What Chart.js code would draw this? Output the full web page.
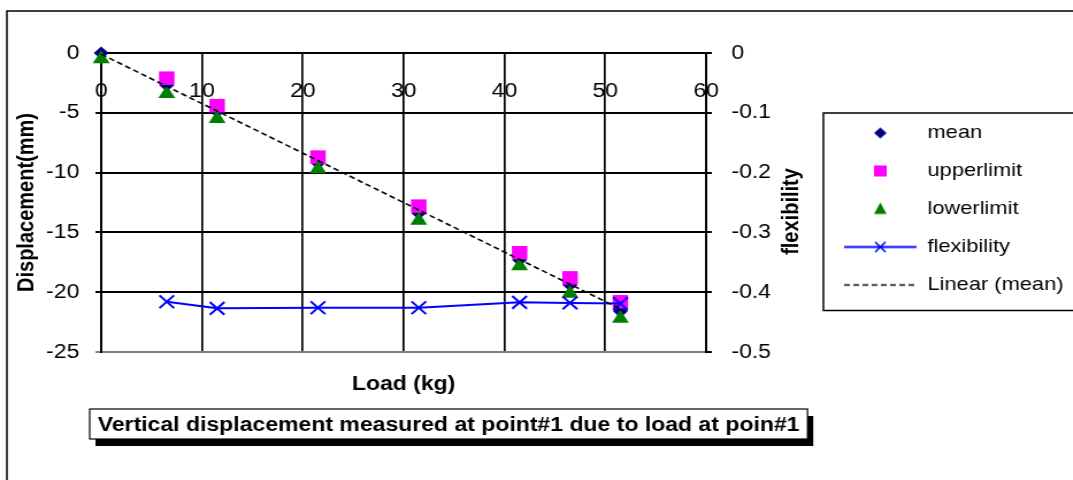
<!DOCTYPE html>
<html lang="en">
<head>
  <meta charset="UTF-8" />
  <title>Vertical displacement at point#1</title>
  <script src="https://cdn.jsdelivr.net/npm/chart.js"></script>
  <style>
    html, body { margin: 0; padding: 0; background: #fff; overflow: hidden; }
    /* the chart is drawn narrow and widened a little, like the original sheet export */
    #wrap { width: 933px; height: 480px; transform: scaleX(1.15); transform-origin: 0 0; }
  </style>
</head>
<body>
  <div id="wrap"><canvas id="chart" width="933" height="480"></canvas></div>

  <script>
    // load steps (kg) and measured vertical displacement (mm)
    const loads      = [0, 6.5, 11.5, 21.5, 31.5, 41.5, 46.5, 51.5];
    const meanDisp   = [0, -2.7, -4.9, -9.2, -13.4, -17.3, -19.4, -21.6];
    const upperDisp  = [null, -2.1, -4.4, -8.7, -12.8, -16.7, -18.8, -20.8];
    const lowerDisp  = [-0.5, -3.4, -5.5, -9.7, -14.0, -17.8, -20.1, -22.2];

    // flexibility = displacement / load (no value at zero load)
    const flexLoads  = [6.5, 11.5, 21.5, 31.5, 41.5, 46.5, 51.5];
    const flexValues = [-0.416, -0.427, -0.426, -0.426, -0.417, -0.418, -0.419];

    // linear trendline of the mean
    const trendLoads = [0, 51.5];
    const trendDisp  = [-0.1, -21.4];

    const chartTitle = 'Vertical displacement measured at point#1 due to load at poin#1';

    const FONT = "'Liberation Sans', Arial, sans-serif";
    Chart.defaults.font.family = FONT;
    Chart.defaults.color = '#000';

    const toPoints = (xs, ys) => xs.map((x, i) => ({ x: x, y: ys[i] })).filter(p => p.y !== null);

    // small canvases used as legend symbols
    function makeIcon(draw) {
      const c = document.createElement('canvas');
      c.width = 63; c.height = 19;
      draw(c.getContext('2d'), 31.5, 9.5);
      return c;
    }
    const legendIcons = [
      makeIcon((g, x, y) => {
        g.fillStyle = '#000080';
        g.beginPath(); g.moveTo(x, y - 5.5); g.lineTo(x + 5.5, y); g.lineTo(x, y + 5.5); g.lineTo(x - 5.5, y); g.closePath(); g.fill();
      }),
      makeIcon((g, x, y) => { g.fillStyle = '#FF00FF'; g.fillRect(x - 5.5, y - 5.5, 11, 11); }),
      makeIcon((g, x, y) => {
        g.fillStyle = '#008000';
        g.beginPath(); g.moveTo(x, y - 6.5); g.lineTo(x + 5.5, y + 5); g.lineTo(x - 5.5, y + 5); g.closePath(); g.fill();
      }),
      makeIcon((g, x, y) => {
        g.strokeStyle = '#0000FF'; g.lineWidth = 2;
        g.beginPath(); g.moveTo(0, y); g.lineTo(63, y); g.stroke();
        g.lineWidth = 1.6;
        g.beginPath(); g.moveTo(x - 4.5, y - 5); g.lineTo(x + 4.5, y + 5); g.moveTo(x + 4.5, y - 5); g.lineTo(x - 4.5, y + 5); g.stroke();
      }),
      makeIcon((g, x, y) => {
        g.strokeStyle = '#000'; g.lineWidth = 1.4; g.setLineDash([5, 3]);
        g.beginPath(); g.moveTo(0, y); g.lineTo(63, y); g.stroke();
      })
    ];

    // frame, legend box, right axis title and the boxed caption
    const decorations = {
      id: 'decorations',
      afterDraw(chart) {
        const ctx = chart.ctx;
        const area = chart.chartArea;
        const legend = chart.legend;
        const y2 = chart.scales.y2;
        ctx.save();

        ctx.strokeStyle = '#000';
        ctx.lineWidth = 1.5;
        ctx.strokeRect(6, 11, chart.width + 20, chart.height + 20);

        const hb = legend.legendHitBoxes;
        const top = hb[0].top - 10.5;
        const bottom = hb[hb.length - 1].top + hb[hb.length - 1].height + 16;
        ctx.strokeRect(legend.left + 1, top, chart.width, bottom - top);

        ctx.fillStyle = '#000';
        ctx.font = 'bold 20px ' + FONT;
        ctx.textAlign = 'center';
        ctx.textBaseline = 'middle';
        ctx.translate(y2.right - 27, (area.top + area.bottom) / 2 + 9);
        ctx.rotate(-Math.PI / 2);
        ctx.fillText('flexibility', 0, 0);
        ctx.setTransform(1, 0, 0, 1, 0, 0);

        const tw = ctx.measureText(chartTitle).width;
        const bx = area.left - 10, by = area.bottom + 57, bw = tw + 14, bh = 30;
        ctx.fillStyle = '#000';
        ctx.fillRect(bx + 5, by + 7, bw, bh);
        ctx.fillStyle = '#fff';
        ctx.fillRect(bx, by, bw, bh);
        ctx.lineWidth = 1.2;
        ctx.strokeRect(bx, by, bw, bh);
        ctx.fillStyle = '#000';
        ctx.fillText(chartTitle, bx + bw / 2, by + bh / 2 + 1);
        ctx.restore();
      }
    };

    new Chart(document.getElementById('chart'), {
      type: 'scatter',
      data: {
        datasets: [
          {
            label: 'mean',
            data: toPoints(loads, meanDisp),
            pointStyle: 'rectRot', pointRadius: 6.5, pointBorderWidth: 0,
            backgroundColor: '#000080', borderColor: '#000080',
            clip: false,
            order: 5
          },
          {
            label: 'upperlimit',
            data: toPoints(loads, upperDisp),
            pointStyle: 'rect', pointRadius: 9.5, pointBorderWidth: 0,
            backgroundColor: '#FF00FF', borderColor: '#FF00FF',
            clip: false,
            order: 4
          },
          {
            label: 'lowerlimit',
            data: toPoints(loads, lowerDisp),
            pointStyle: 'triangle', pointRadius: 8.5, pointBorderWidth: 0,
            backgroundColor: '#008000', borderColor: '#008000',
            clip: false,
            order: 3
          },
          {
            label: 'flexibility',
            data: toPoints(flexLoads, flexValues),
            yAxisID: 'y2',
            showLine: true,
            borderColor: '#0000FF', borderWidth: 2,
            pointStyle: 'crossRot', pointRadius: 9, pointBorderWidth: 2,
            pointBorderColor: '#0000FF', backgroundColor: '#0000FF',
            clip: false,
            order: 2
          },
          {
            label: 'Linear (mean)',
            data: toPoints(trendLoads, trendDisp),
            showLine: true,
            borderColor: '#000', borderWidth: 1.6, borderDash: [5, 3],
            pointRadius: 0,
            order: 1
          }
        ]
      },
      options: {
        responsive: false,
        animation: false,
        layout: { padding: { left: 0, right: 0, top: 53, bottom: 0 } },
        plugins: {
          tooltip: { enabled: false },
          legend: {
            position: 'right',
            fullSize: false,
            maxWidth: 218,
            title: { display: true, text: '', font: { size: 1, lineHeight: 1 }, padding: 6 },
            labels: {
              usePointStyle: true,
              pointStyleWidth: 63,
              padding: 19,
              font: { size: 19 },
              color: '#000',
              generateLabels: chart => chart.data.datasets.map((ds, i) => ({
                text: ds.label,
                pointStyle: legendIcons[i],
                datasetIndex: i,
                hidden: false,
                lineWidth: 0,
                strokeStyle: 'transparent',
                fillStyle: 'transparent',
                fontColor: '#000'
              }))
            }
          }
        },
        scales: {
          x: {
            type: 'linear',
            position: { y: 0 },
            min: 0, max: 60,
            ticks: { stepSize: 10, padding: 26, font: { size: 20 } },
            grid: { color: '#000', lineWidth: 1.7, drawTicks: false },
            border: { color: '#000', width: 2 }
          },
          xTitle: {
            type: 'linear',
            axis: 'x',
            position: 'bottom',
            min: 0, max: 60,
            ticks: { display: false },
            grid: { display: false },
            border: { display: false },
            title: {
              display: true, text: 'Load (kg)',
              font: { size: 20, weight: 'bold' },
              padding: { top: 0, bottom: 84 }
            },
            afterFit: s => { s.height = 128; }
          },
          y: {
            position: 'left',
            min: -25, max: 0,
            ticks: { stepSize: 5, padding: 14, font: { size: 20 } },
            grid: {
              color: c => (c.tick && c.tick.value === -25 ? '#808080' : '#000'),
              lineWidth: 2,
              tickLength: 5
            },
            border: { color: '#000', width: 2 },
            title: {
              display: true, text: 'Displacement(mm)',
              font: { size: 20, weight: 'bold' },
              padding: { top: 11, bottom: 0 }
            },
            afterFit: s => { s.width = 88; }
          },
          y2: {
            position: 'right',
            min: -0.5, max: 0,
            ticks: { stepSize: 0.1, padding: 17, font: { size: 20 } },
            grid: { drawOnChartArea: false, color: '#000', lineWidth: 2, tickLength: 5 },
            border: { color: '#000', width: 2 },
            afterFit: s => { s.width = 101; }
          }
        }
      },
      plugins: [decorations]
    });
  </script>
</body>
</html>
